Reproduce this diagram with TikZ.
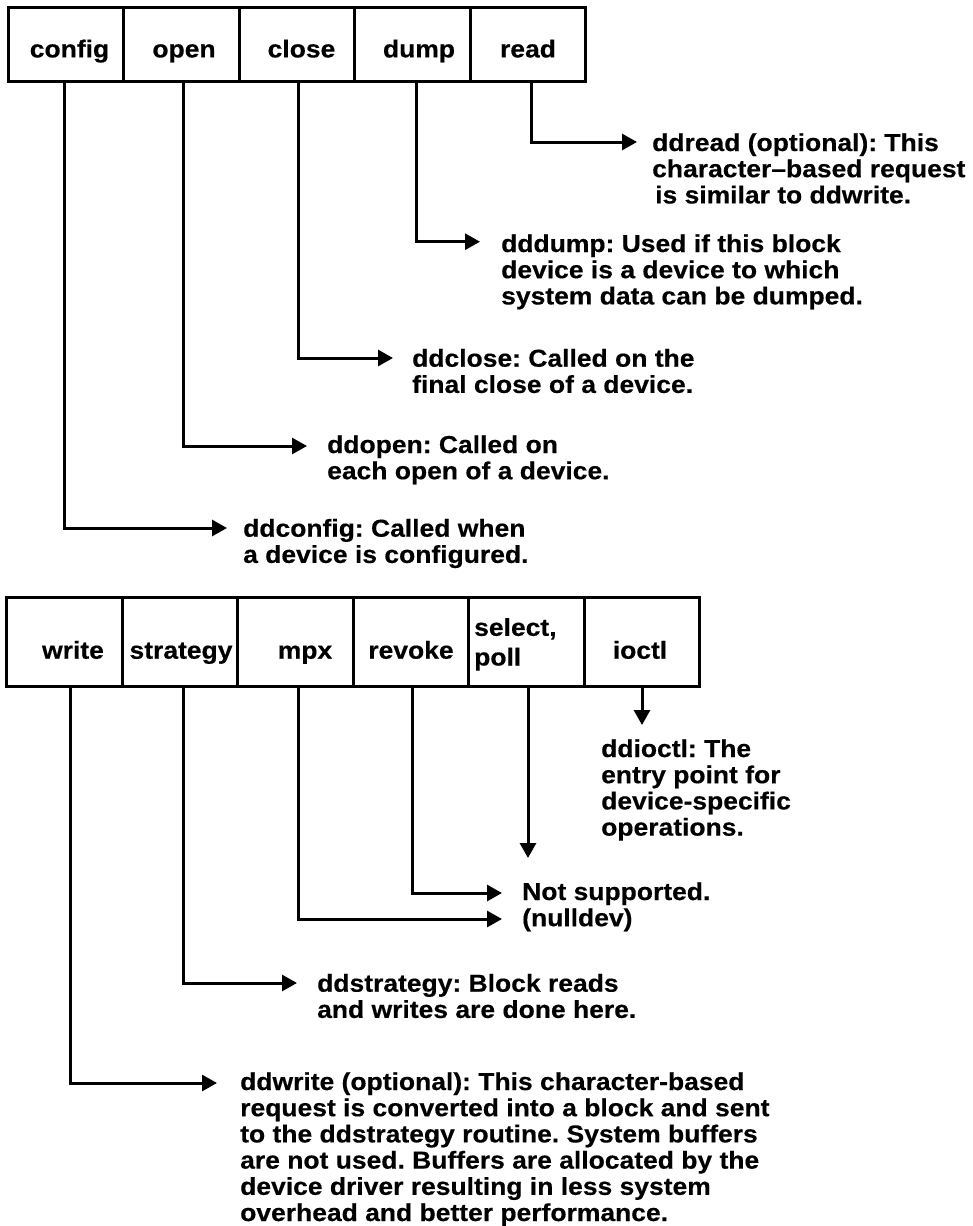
\documentclass[tikz,border=0pt]{standalone}
\usepackage{fontspec}
\setmainfont{Liberation Sans}[FakeStretch=1.08, BoldFeatures={FakeBold=0.4}]
\usetikzlibrary{arrows.meta}
\frenchspacing
\begin{document}
\begin{tikzpicture}[x=1pt,y=-1pt,
  cell/.style={draw, line width=3pt, inner sep=0pt, minimum width=115.5pt},
  topcell/.style={cell, minimum height=73.5pt},
  botcell/.style={cell, minimum height=89pt},
  lbl/.style={anchor=base, inner sep=0pt, font=\fontsize{24.5}{29.7}\selectfont\bfseries},
  % desc=n: a block of n lines, placed by the baseline of its first line
  desc/.style={anchor=base west, align=left, inner sep=0pt,
               yshift={-(#1-1)*26.2pt},
               font=\fontsize{24.5}{26.2}\selectfont\bfseries},
  conn/.style={line width=3pt, -{Triangle[length=15pt,width=16pt]}}]
\useasboundingbox (0,0) rectangle (973,1226);

% ---- upper table of entry points ----
\node[topcell] (config) at (66.15,44.45) {};
\node[topcell] (open)   at (181.65,44.45) {};
\node[topcell] (close)  at (297.15,44.45) {};
\node[topcell] (dump)   at (412.65,44.45) {};
\node[topcell] (read)   at (528.15,44.45) {};
\node[lbl] (config-l) at (69.5,57.4)  {config};
\node[lbl] (open-l)   at (184,57.4)   {open};
\node[lbl] (close-l)  at (301.5,57.4) {close};
\node[lbl] (dump-l)   at (419,57.4)   {dump};
\node[lbl] (read-l)   at (528,57.4)   {read};

% ---- lower table of entry points ----
\node[botcell] (write)    at (64.6,641.5)  {};
\node[botcell] (strategy) at (180.1,641.5) {};
\node[botcell] (mpx)      at (295.5,641.5) {};
\node[botcell] (revoke)   at (411,641.5)   {};
\node[botcell] (selpoll)  at (526.4,641.5) {};
\node[botcell] (ioctl)    at (641.9,641.5) {};
\node[lbl] (write-l)    at (73,658.7)  {write};
\node[lbl] (strategy-l) at (181,658.7) {strategy};
\node[lbl] (mpx-l)      at (305,658.7) {mpx};
\node[lbl] (revoke-l)   at (411,658.7) {revoke};
\node[lbl, anchor=base west, align=left] (selpoll-l) at (474,665.5) {select,\\poll};
\node[lbl] (ioctl-l)    at (640,658.7) {ioctl};

% ---- descriptions ----
\node[desc=3] (ddread) at (652,151) {ddread (optional): This\\character–based request\\\hspace*{3pt}is similar to ddwrite.};
\node[desc=3] (dddump) at (501,252) {dddump: Used if this block\\device is a device to which\\system data can be dumped.};
\node[desc=2] (ddclose) at (412,366.7) {ddclose: Called on the\\final close of a device.};
\node[desc=2] (ddopen) at (327,453) {ddopen: Called on\\each open of a device.};
\node[desc=2] (ddconfig) at (243,536.7) {ddconfig: Called when\\a device is configured.};
\node[desc=4] (ddioctl) at (601,757) {ddioctl: The\\entry point for\\device-specific\\operations.};
\node[desc=2] (nulldev) at (522,900) {Not supported.\\(nulldev)};
\node[desc=2] (ddstrategy) at (317,991.7) {ddstrategy: Block reads\\and writes are done here.};
\node[desc=6] (ddwrite) at (240,1090) {ddwrite (optional): This character-based\\request is converted into a block and sent\\to the ddstrategy routine. System buffers\\are not used. Buffers are allocated by the\\device driver resulting in less system\\overhead and better performance.};

% ---- arrow end points ----
\coordinate (t-read)     at (637,142);
\coordinate (t-dump)     at (480,241.7);
\coordinate (t-close)    at (393,358);
\coordinate (t-open)     at (307,446);
\coordinate (t-config)   at (227,528);
\coordinate (t-ioctl)    at (642,725);
\coordinate (t-selpoll)  at (528,858);
\coordinate (t-revoke)   at (502,893);
\coordinate (t-mpx)      at (502,919);
\coordinate (t-strategy) at (297,983);
\coordinate (t-write)    at (217,1083);

% ---- connectors ----
\draw[conn] ([xshift=2.9pt]read.south)   |- (t-read);
\draw[conn] ([xshift=3.4pt]dump.south)   |- (t-dump);
\draw[conn] ([xshift=0.9pt]close.south)  |- (t-close);
\draw[conn] ([xshift=1.4pt]open.south)   |- (t-open);
\draw[conn] ([xshift=-1.2pt]config.south) |- (t-config);
\draw[conn] ([xshift=0.1pt]ioctl.south)  -- (t-ioctl);
\draw[conn] ([xshift=1.6pt]selpoll.south) -- (t-selpoll);
\draw[conn] ([xshift=1pt]revoke.south)   |- (t-revoke);
\draw[conn] ([xshift=2.5pt]mpx.south)    |- (t-mpx);
\draw[conn] ([xshift=2.9pt]strategy.south) |- (t-strategy);
\draw[conn] ([xshift=5.4pt]write.south)  |- (t-write);
\end{tikzpicture}
\end{document}
